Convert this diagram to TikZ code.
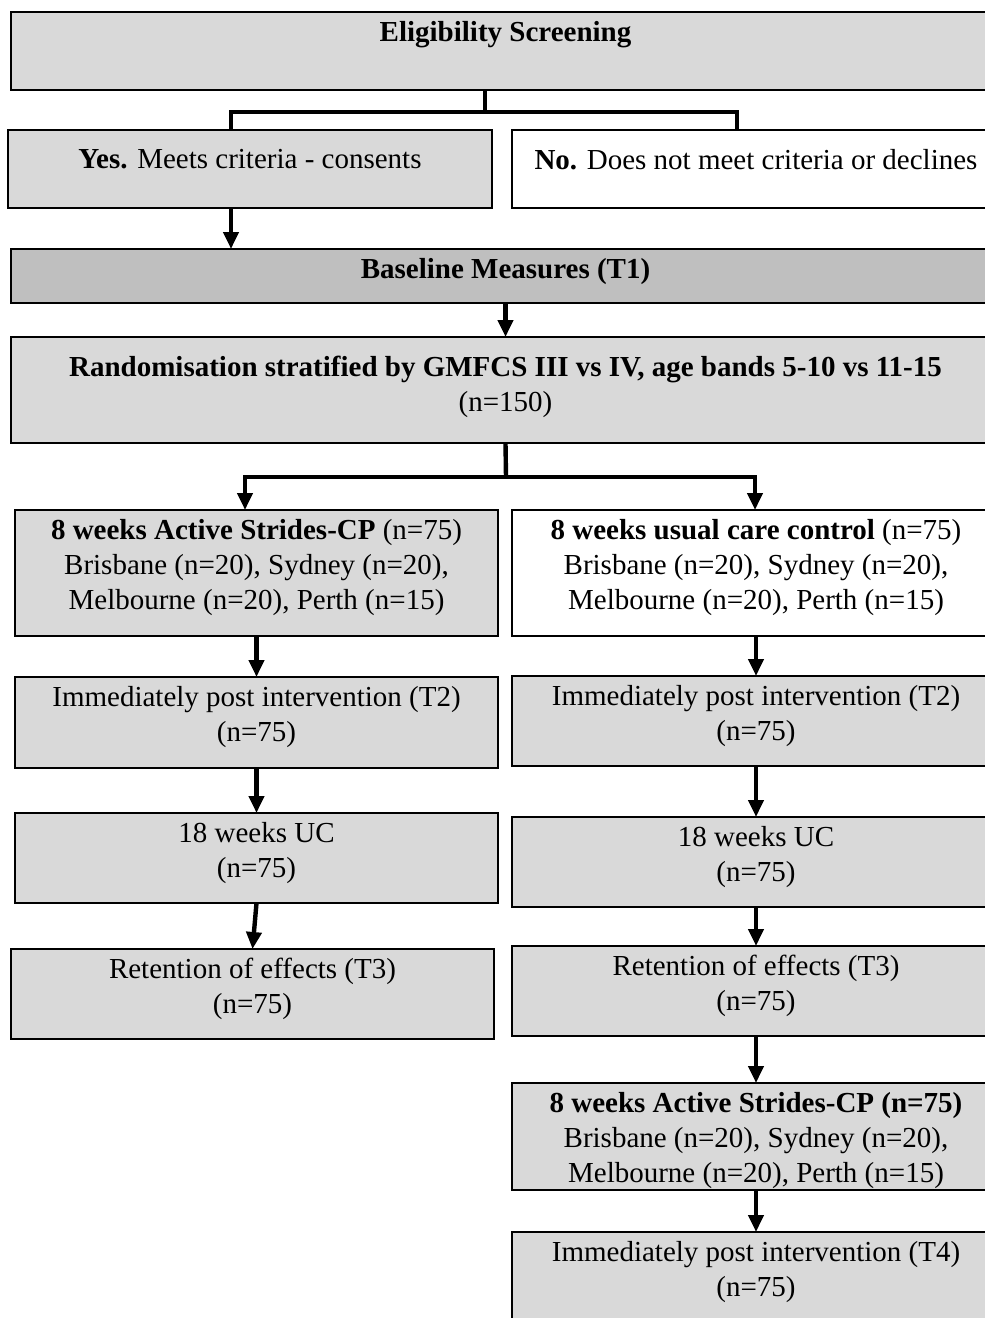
\documentclass[tikz,border=0pt]{standalone}
\usepackage{fontspec}
\setmainfont{Liberation Serif}
\usetikzlibrary{arrows.meta}
\definecolor{boxgray}{RGB}{217,217,217}
\definecolor{basegray}{RGB}{191,191,191}

\begin{document}
\begin{tikzpicture}[x=0.5pt, y=-0.5pt]
\tikzstyle{box}=[draw, line width=1pt, fill=boxgray, anchor=north west, inner sep=0, outer sep=0]
\tikzstyle{txt}=[anchor=north, align=center, inner sep=0, yshift=-4.5pt, font=\fontsize{14.5}{17.5}\selectfont]
\tikzstyle{link}=[line width=2.2pt]
\tikzstyle{arr}=[line width=2.2pt, -{Triangle[width=7.5pt, length=8.5pt]}]

\clip (0, 0) rectangle (985, 1318);

% screening
\node (elig) at (11, 12) [box, minimum width=494.5pt, minimum height=39pt,
    label={[txt]north:\textbf{Eligibility Screening}}]{};
\node (yes) at (8, 130) [box, minimum width=242pt, minimum height=39pt,
    label={[txt, yshift=-5pt]north:\textbf{Yes.} Meets criteria - consents}]{};
\node (no) at (512, 130) [box, fill=white, minimum width=244pt, minimum height=39pt,
    label={[txt, yshift=-5pt]north:\textbf{No.} Does not meet criteria or declines}]{};

\node (base) at (11, 249) [box, fill=basegray, minimum width=494.5pt, minimum height=27pt,
    label={[txt]north:\textbf{Baseline Measures (T1)}}]{};
\node (rand) at (11, 337) [box, minimum width=494.5pt, minimum height=53pt,
    label={[txt, yshift=-5pt]north:\textbf{Randomisation stratified by GMFCS III vs IV, age bands 5-10 vs 11-15}\\(n=150)}]{};

% left arm
\node (actA) at (15, 510) [box, minimum width=241.5pt, minimum height=63pt,
    label={[txt]north:\textbf{8 weeks Active Strides-CP} (n=75)\\Brisbane (n=20), Sydney (n=20),\\Melbourne (n=20), Perth (n=15)}]{};
\node (t2A) at (15, 677) [box, minimum width=241.5pt, minimum height=45.5pt,
    label={[txt]north:Immediately post intervention (T2)\\(n=75)}]{};
\node (ucA) at (15, 813) [box, minimum width=241.5pt, minimum height=45pt,
    label={[txt]north:18 weeks UC\\(n=75)}]{};
\node (t3A) at (11, 949) [box, minimum width=241.5pt, minimum height=45pt,
    label={[txt]north:Retention of effects (T3)\\(n=75)}]{};

% right arm
\node (ucB) at (512, 510) [box, fill=white, minimum width=244pt, minimum height=63pt,
    label={[txt]north:\textbf{8 weeks usual care control} (n=75)\\Brisbane (n=20), Sydney (n=20),\\Melbourne (n=20), Perth (n=15)}]{};
\node (t2B) at (512, 676) [box, minimum width=244pt, minimum height=45pt,
    label={[txt]north:Immediately post intervention (T2)\\(n=75)}]{};
\node (ucB2) at (512, 817) [box, minimum width=244pt, minimum height=45pt,
    label={[txt]north:18 weeks UC\\(n=75)}]{};
\node (t3B) at (512, 946) [box, minimum width=244pt, minimum height=45pt,
    label={[txt]north:Retention of effects (T3)\\(n=75)}]{};
\node (actB) at (512, 1083) [box, minimum width=244pt, minimum height=53.5pt,
    label={[txt]north:\textbf{8 weeks Active Strides-CP (n=75)}\\Brisbane (n=20), Sydney (n=20),\\Melbourne (n=20), Perth (n=15)}]{};
\node (t4B) at (512, 1232) [box, minimum width=244pt, minimum height=50pt,
    label={[txt]north:Immediately post intervention (T4)\\(n=75)}]{};

\coordinate (j1) at (485, 112);
\coordinate (j1l) at (231, 112);
\coordinate (j1r) at (737, 112);
\coordinate (j2) at (506, 477);
\coordinate (j2l) at (245, 477);
\coordinate (j2r) at (755, 477);

\draw [link] (elig.south -| j1) -- (j1);
\draw [link] (yes.north -| j1l) -- (j1l) -- (j1r) -- (no.north -| j1r);
\draw [arr] (yes.south -| j1l) to (base.north -| j1l);
\draw [arr] (base.south) to (rand.north);

\draw [link] (rand.south) -- (j2);
\draw [arr] (j2) -| (actA.north -| j2l);
\draw [arr] (j2) -| (ucB.north -| j2r);

\draw [arr] (actA.south) to (t2A.north);
\draw [arr] (t2A.south) to (ucA.north);
\draw [arr] (ucA.south) to (t3A.north);

\draw [arr] (ucB.south) to (t2B.north);
\draw [arr] (t2B.south) to (ucB2.north);
\draw [arr] (ucB2.south) to (t3B.north);
\draw [arr] (t3B.south) to (actB.north);
\draw [arr] (actB.south) to (t4B.north);

\end{tikzpicture}
\end{document}
